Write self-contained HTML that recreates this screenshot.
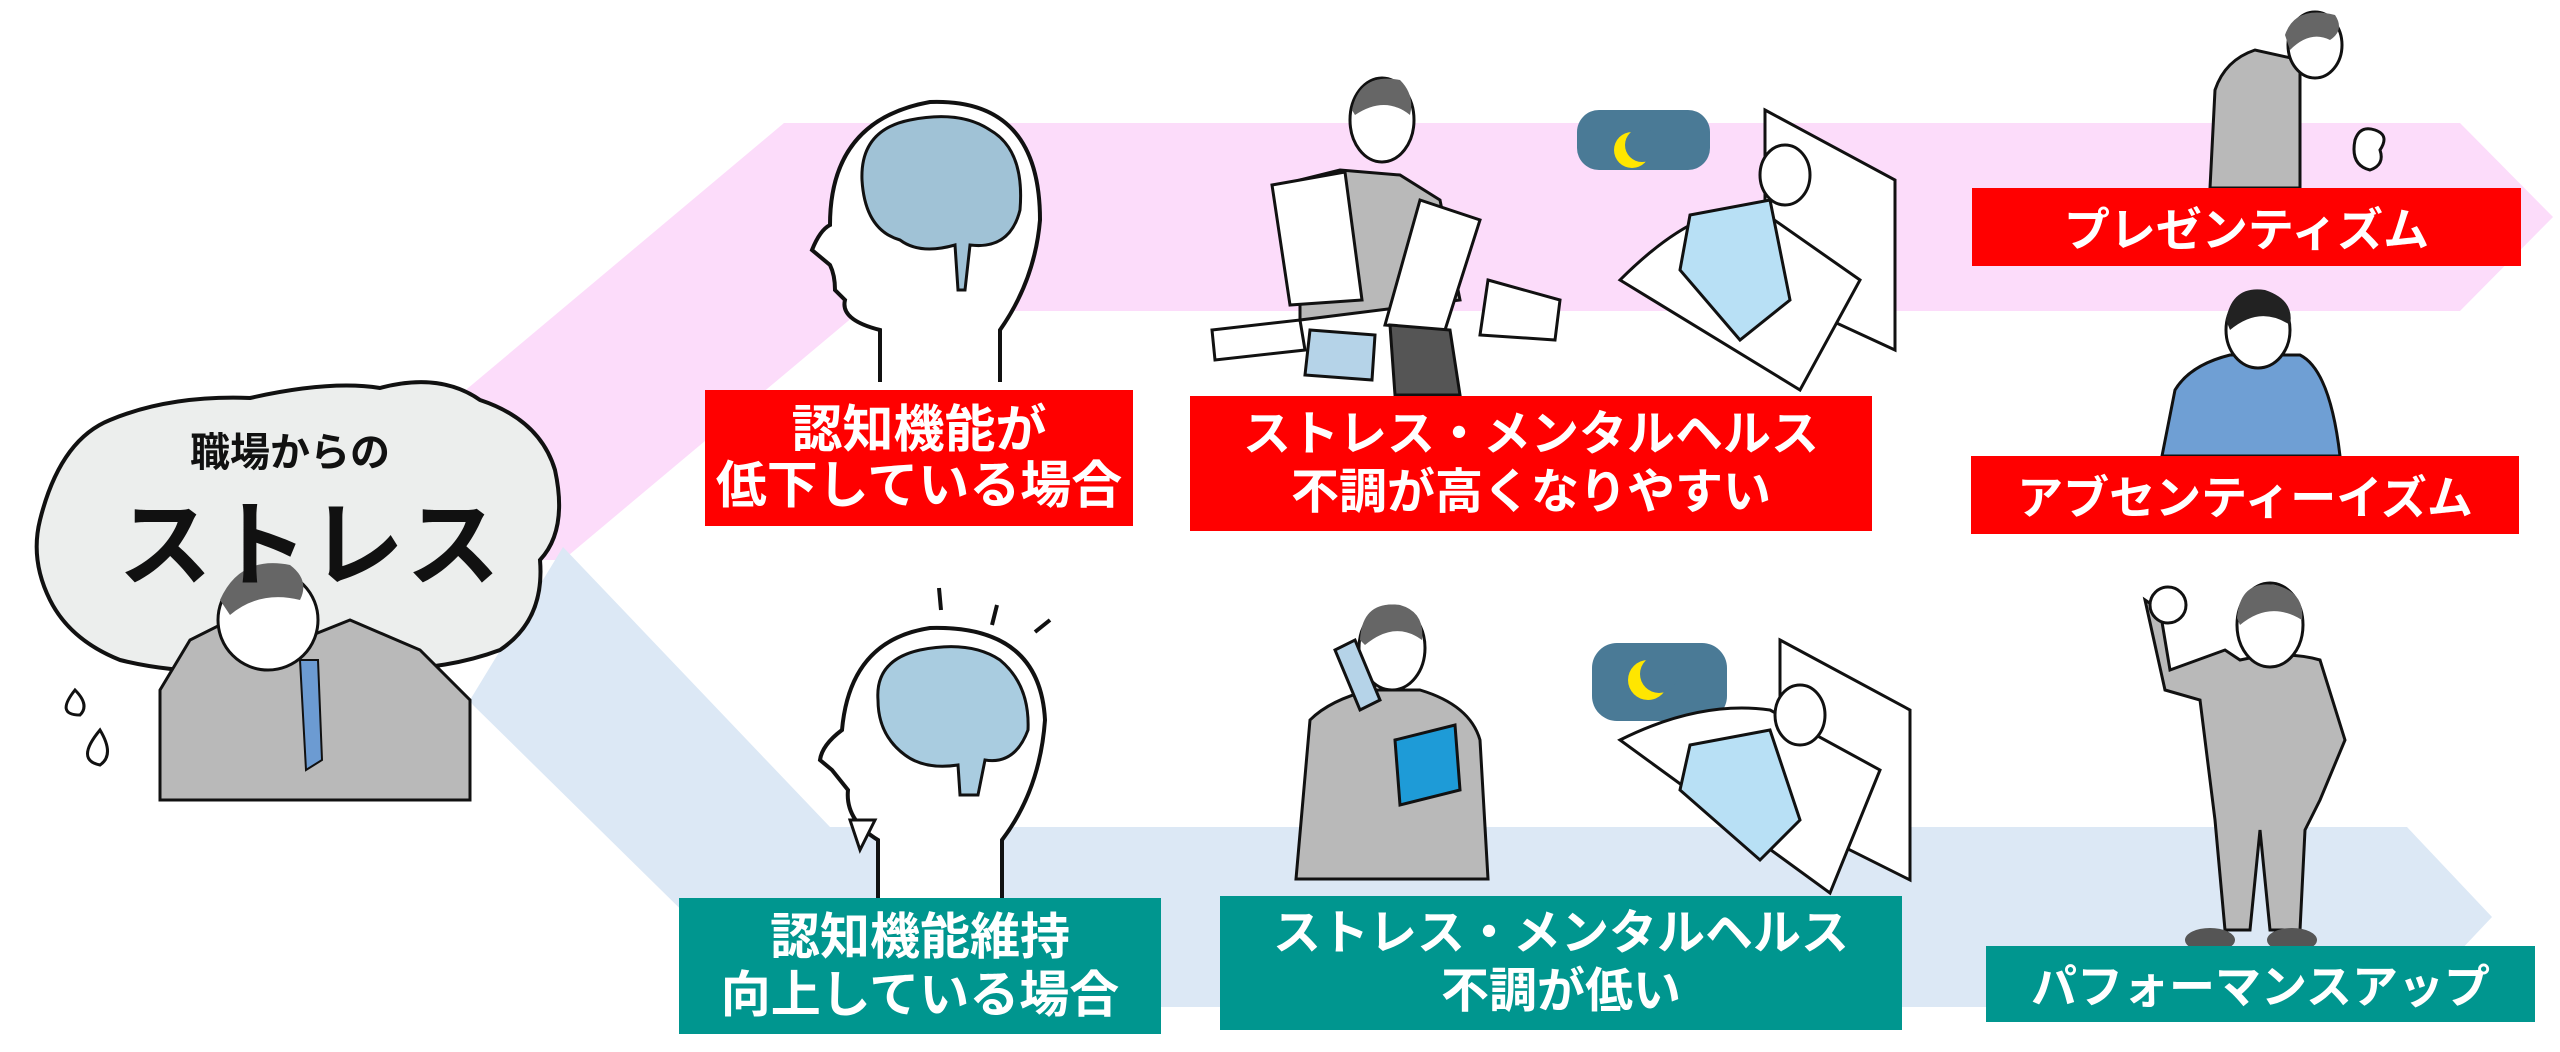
<!DOCTYPE html>
<html><head><meta charset="utf-8"><style>
html,body{margin:0;padding:0;background:#fff}
body{width:2560px;height:1052px;position:relative;overflow:hidden;font-family:"Liberation Sans","Noto Sans CJK JP",sans-serif}
.b{position:absolute;color:#fff;font-weight:bold;display:flex;flex-direction:column;align-items:center;justify-content:center;text-align:center;white-space:nowrap}
.r{background:#ff0000}.t{background:#00968f}
</style></head><body>
<svg width="2560" height="1052" style="position:absolute;left:0;top:0" xmlns="http://www.w3.org/2000/svg">
<polygon points="430,420 784,123 2460,123 2553,217 2460,311 860,311 563,560 470,560" fill="#fcdcfa"/>
<polygon points="470,700 563,547 830,827 2407,827 2492,917 2407,1007 780,1007 473,705" fill="#dce8f5"/>
<!-- rock -->
<path d="M40,520 Q60,440 110,420 Q170,395 250,398 Q330,380 380,388 Q440,372 480,400 Q540,420 555,470 Q568,530 540,560 Q545,620 500,650 Q420,680 300,665 Q200,680 120,660 Q70,640 50,600 Q30,560 40,520Z" fill="#eceeed" stroke="#111" stroke-width="4"/>
<!-- stressed man -->
<path d="M160,690 L190,640 L250,610 L300,640 L350,620 L420,650 L470,700 L470,800 L160,800Z" fill="#b9b9b9" stroke="#111" stroke-width="3"/>
<circle cx="268" cy="620" r="50" fill="#fff" stroke="#111" stroke-width="3"/>
<path d="M220,600 Q240,555 290,565 Q310,580 300,600 Q260,590 230,615Z" fill="#666"/>
<polygon points="300,660 318,660 322,760 306,770" fill="#6c9bd2" stroke="#111" stroke-width="2"/>
<path d="M75,690 q-20,25 5,25 q10,-10 -5,-25Z M100,730 q-25,30 0,35 q15,-10 0,-35Z" fill="#fff" stroke="#111" stroke-width="3"/>
<!-- head 1 -->
<path d="M880,382 L880,330 Q840,320 845,300 L835,290 Q835,275 830,265 L812,250 Q820,230 830,225 Q830,120 930,102 Q1040,98 1040,220 Q1035,280 1000,330 L1000,382" fill="#fff" stroke="#111" stroke-width="4"/>
<path d="M862,180 Q860,130 910,120 Q960,110 990,130 Q1025,150 1020,210 Q1010,250 970,245 L965,290 L958,290 L955,245 Q920,255 900,240 Q865,230 862,180Z" fill="#a0c2d6" stroke="#111" stroke-width="3"/>
<!-- head 2 -->
<path d="M878,899 L878,840 Q845,820 848,790 L832,770 L820,760 Q822,745 842,730 Q850,640 930,628 Q1040,625 1045,720 Q1040,790 1002,840 L1002,899" fill="#fff" stroke="#111" stroke-width="4"/>
<path d="M878,700 Q875,660 920,650 Q970,640 1000,660 Q1030,685 1028,730 Q1015,765 985,760 L978,795 L960,795 L958,765 Q925,770 905,755 Q878,735 878,700Z" fill="#a9cce0" stroke="#111" stroke-width="3"/>
<path d="M850,820 L875,820 L860,850Z" fill="#fff" stroke="#111" stroke-width="3"/>
<path d="M939,588 L941,610 M997,605 L992,625 M1050,620 L1035,632" stroke="#111" stroke-width="4"/>
<!-- paper man -->
<path d="M1300,180 L1340,170 L1400,175 L1440,200 L1460,300 L1300,320Z" fill="#b9b9b9" stroke="#111" stroke-width="3"/>
<ellipse cx="1382" cy="120" rx="32" ry="42" fill="#fff" stroke="#111" stroke-width="3"/>
<path d="M1352,110 Q1360,72 1400,80 Q1415,95 1410,115 Q1385,95 1355,115Z" fill="#666"/>
<polygon points="1272,185 1345,172 1362,300 1290,305" fill="#fff" stroke="#111" stroke-width="3"/>
<polygon points="1420,200 1480,220 1445,330 1385,325" fill="#fff" stroke="#111" stroke-width="3"/>
<path d="M1212,330 L1300,320 L1305,350 L1215,360Z M1488,280 L1560,300 L1555,340 L1480,335Z" fill="#fff" stroke="#111" stroke-width="3"/>
<polygon points="1310,330 1375,335 1372,380 1305,375" fill="#b5d3e8" stroke="#111" stroke-width="3"/>
<polygon points="1390,325 1450,330 1460,395 1395,395" fill="#555" stroke="#111" stroke-width="3"/>
<!-- moon cloud 1 -->
<rect x="1577" y="110" width="133" height="60" rx="22" fill="#4a7a96"/>
<circle cx="1632" cy="150" r="18" fill="#ffe600"/><circle cx="1642" cy="145" r="17" fill="#4a7a96"/>
<!-- bed 1 -->
<path d="M1765,110 L1895,180 L1895,350 L1765,290Z" fill="#fff" stroke="#111" stroke-width="3"/>
<path d="M1620,280 Q1700,200 1760,210 L1860,280 L1800,390 Z" fill="#fff" stroke="#111" stroke-width="3"/>
<path d="M1690,215 L1770,200 L1790,300 L1740,340 L1680,270Z" fill="#b8e0f5" stroke="#111" stroke-width="3"/>
<ellipse cx="1785" cy="175" rx="25" ry="30" fill="#fff" stroke="#111" stroke-width="3"/>
<!-- presenteeism man -->
<path d="M2210,188 L2215,90 Q2225,60 2255,50 L2300,60 L2300,188Z" fill="#b9b9b9" stroke="#111" stroke-width="3"/>
<ellipse cx="2315" cy="45" rx="27" ry="33" fill="#fff" stroke="#111" stroke-width="3"/>
<path d="M2285,35 Q2295,5 2335,15 Q2345,30 2330,40 Q2310,30 2290,50Z" fill="#666"/>
<path d="M2355,140 q5,-15 20,-10 q15,5 5,20 q5,15 -10,20 q-20,-5 -15,-30Z" fill="#fff" stroke="#111" stroke-width="3"/>
<!-- absenteeism man -->
<path d="M2162,456 L2175,390 Q2190,365 2230,355 L2300,355 Q2330,370 2340,456Z" fill="#6f9fd4" stroke="#111" stroke-width="3"/>
<ellipse cx="2258" cy="330" rx="32" ry="38" fill="#fff" stroke="#111" stroke-width="3"/>
<path d="M2226,320 Q2232,285 2265,290 Q2295,300 2290,325 Q2260,305 2230,330Z" fill="#222"/>
<!-- phone man -->
<path d="M1296,879 L1310,720 Q1330,700 1370,690 L1420,690 Q1470,705 1480,740 L1488,879Z" fill="#b9b9b9" stroke="#111" stroke-width="3"/>
<ellipse cx="1392" cy="648" rx="33" ry="42" fill="#fff" stroke="#111" stroke-width="3"/>
<path d="M1360,640 Q1362,600 1400,605 Q1425,612 1422,640 Q1395,620 1365,645Z" fill="#666"/>
<polygon points="1395,740 1455,725 1460,790 1400,805" fill="#1e9bd7" stroke="#111" stroke-width="3"/>
<polygon points="1335,650 1355,640 1380,700 1360,710" fill="#b5d3e8" stroke="#111" stroke-width="3"/>
<!-- moon cloud 2 -->
<rect x="1592" y="643" width="135" height="78" rx="25" fill="#4a7a96"/>
<circle cx="1648" cy="680" r="20" fill="#ffe600"/><circle cx="1659" cy="674" r="19" fill="#4a7a96"/>
<!-- bed 2 -->
<path d="M1780,640 L1910,710 L1910,880 L1780,815Z" fill="#fff" stroke="#111" stroke-width="3"/>
<path d="M1620,740 Q1700,700 1770,710 L1880,770 L1830,893 Z" fill="#fff" stroke="#111" stroke-width="3"/>
<path d="M1690,745 L1770,730 L1800,820 L1760,860 L1680,790Z" fill="#b8e0f5" stroke="#111" stroke-width="3"/>
<ellipse cx="1800" cy="715" rx="25" ry="30" fill="#fff" stroke="#111" stroke-width="3"/>
<!-- performance man -->
<path d="M2160,610 L2170,670 L2225,650 L2240,660 Q2285,650 2320,660 L2345,740 L2320,800 L2305,830 L2300,930 L2270,930 L2260,830 L2250,930 L2225,930 L2215,820 L2200,700 L2165,690 L2145,600Z" fill="#b9b9b9" stroke="#111" stroke-width="3"/>
<ellipse cx="2270" cy="625" rx="33" ry="42" fill="#fff" stroke="#111" stroke-width="3"/>
<path d="M2237,618 Q2240,580 2275,585 Q2305,592 2302,620 Q2270,600 2240,625Z" fill="#666"/>
<circle cx="2168" cy="605" r="18" fill="#fff" stroke="#111" stroke-width="3"/>
<ellipse cx="2210" cy="940" rx="25" ry="12" fill="#555"/><ellipse cx="2292" cy="940" rx="25" ry="12" fill="#555"/>
</svg>
<div class="b" style="left:40px;top:420px;width:500px;color:#111;font-size:40px">職場からの</div>
<div class="b" style="left:40px;top:470px;width:540px;color:#111;font-size:94px;letter-spacing:2px">ストレス</div>
<div class="b r" style="left:705px;top:390px;width:428px;height:136px;font-size:51px;line-height:56px"><div>認知機能が</div><div>低下している場合</div></div>
<div class="b r" style="left:1190px;top:396px;width:682px;height:135px;font-size:48px;line-height:58px"><div>ストレス・メンタルヘルス</div><div>不調が高くなりやすい</div></div>
<div class="b r" style="left:1972px;top:188px;width:549px;height:78px;font-size:46px">プレゼンティズム</div>
<div class="b r" style="left:1971px;top:456px;width:548px;height:78px;font-size:46px">アブセンティーイズム</div>
<div class="b t" style="left:679px;top:898px;width:482px;height:136px;font-size:50px;line-height:58px"><div>認知機能維持</div><div>向上している場合</div></div>
<div class="b t" style="left:1220px;top:896px;width:682px;height:134px;font-size:48px;line-height:58px"><div>ストレス・メンタルヘルス</div><div>不調が低い</div></div>
<div class="b t" style="left:1986px;top:946px;width:549px;height:76px;font-size:46px">パフォーマンスアップ</div>
</body></html>
